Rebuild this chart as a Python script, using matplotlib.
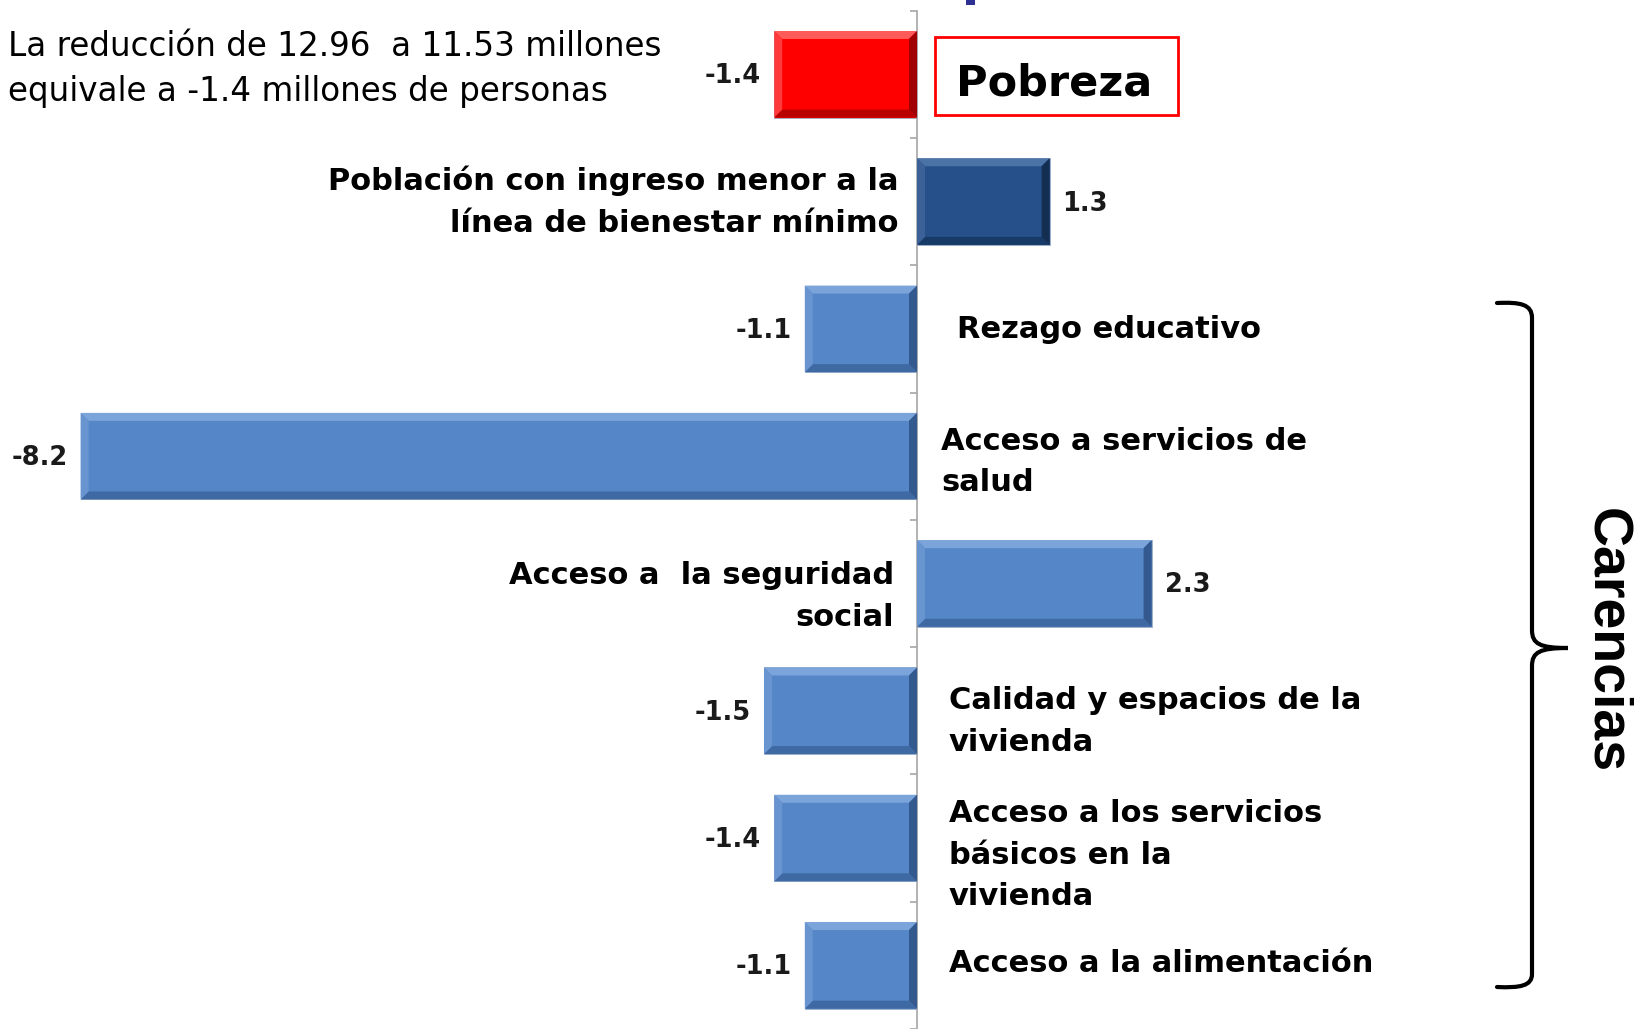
import numpy as np
import matplotlib
matplotlib.use('Agg')
import matplotlib.pyplot as plt
from matplotlib.patches import Polygon, Rectangle, PathPatch
from matplotlib.path import Path

# datos (millones de personas)
categorias = ['Pobreza',
              'Población con ingreso menor a la\nlínea de bienestar mínimo',
              'Rezago educativo',
              'Acceso a servicios de\nsalud',
              'Acceso a  la seguridad\nsocial',
              'Calidad y espacios de la\nvivienda',
              'Acceso a los servicios\nbásicos en la\nvivienda',
              'Acceso a la alimentación']
valores = [-1.4, 1.3, -1.1, -8.2, 2.3, -1.5, -1.4, -1.1]
etiquetas = ['-1.4', '1.3', '-1.1', '-8.2', '2.3', '-1.5', '-1.4', '-1.1']
nota = 'La reducción de 12.96  a 11.53 millones\nequivale a -1.4 millones de personas'

# estilo: (principal, arriba, abajo, izq, der)
rojo = ('#FF0000', '#FF5A5A', '#B80000', '#FF3A3A', '#A00000')
oscuro = ('#26508A', '#4C73A6', '#183A66', '#3B6198', '#142E52')
claro = ('#5587C8', '#7BA5DA', '#3F69A2', '#6894CF', '#33598E')
estilos = [rojo, oscuro] + [claro] * 6
# offsets de las etiquetas de categoria (px)
lab_dx = [0, -19, 40, 24, -23, 32, 32, 32]
lab_dy = [0, 0, -1, -6, -13, -11, -17, 2]

W, H = 1634, 1029
fig = plt.figure(figsize=(W / 100, H / 100), dpi=100)
ax = fig.add_axes([0, 0, 1, 1])
ppu_x = 102.0
ppu_y = 127.7
ax.set_xlim(-917 / ppu_x, (W - 917) / ppu_x)
ax.set_ylim((H - 74.5) / ppu_y, -74.5 / ppu_y)

y = np.arange(len(valores))
hbar = 0.68
for i, (v, est) in enumerate(zip(valores, estilos)):
    ax.barh(y[i], v, height=hbar, color=est[0], edgecolor='#9DB0C8', linewidth=0.6, zorder=2)
    # bisel
    x0, x1 = min(0, v), max(0, v)
    y0, y1 = y[i] - hbar / 2, y[i] + hbar / 2
    bx = 8 / ppu_x
    by = 8 / ppu_y
    caras = [
        ([(x0, y0), (x1, y0), (x1 - bx, y0 + by), (x0 + bx, y0 + by)], est[1]),
        ([(x0, y1), (x1, y1), (x1 - bx, y1 - by), (x0 + bx, y1 - by)], est[2]),
        ([(x0, y0), (x0 + bx, y0 + by), (x0 + bx, y1 - by), (x0, y1)], est[3]),
        ([(x1, y0), (x1 - bx, y0 + by), (x1 - bx, y1 - by), (x1, y1)], est[4]),
    ]
    for pts, c in caras:
        ax.add_patch(Polygon(pts, closed=True, facecolor=c, edgecolor='none', zorder=3))

    # valor
    if v < 0:
        ax.annotate(etiquetas[i], xy=(v, y[i]), xytext=(-13, -2), textcoords='offset pixels',
                    ha='right', va='center', fontsize=18.5, fontweight='bold', color='#1a1a1a')
    else:
        ax.annotate(etiquetas[i], xy=(v, y[i]), xytext=(13, -2), textcoords='offset pixels',
                    ha='left', va='center', fontsize=18.5, fontweight='bold', color='#1a1a1a')

    # categoria
    if i == 0:
        continue
    ax.annotate(categorias[i], xy=(0, y[i]), xytext=(lab_dx[i], lab_dy[i]), textcoords='offset pixels',
                ha='left' if lab_dx[i] > 0 else 'right', va='center', multialignment='left' if lab_dx[i] > 0 else 'right',
                fontsize=22, fontweight='bold', color='black', linespacing=1.55)

ax.spines[['top', 'right', 'bottom']].set_visible(False)
ax.spines['left'].set_position(('data', 0))
ax.spines['left'].set_bounds(-0.5, len(valores) - 0.5)
ax.spines['left'].set_color('#A6A6A6')
ax.spines['left'].set_linewidth(1.2)
ax.set_xticks([])
ax.set_yticks(np.arange(len(valores) + 1) - 0.5)
ax.set_yticklabels([])
ax.tick_params(axis='y', direction='out', length=5, color='#A6A6A6', width=1.2)
ax.patch.set_alpha(0)

# capa de anotaciones en pixeles
ov = fig.add_axes([0, 0, 1, 1], zorder=5)
ov.set_xlim(0, W)
ov.set_ylim(H, 0)
ov.axis('off')
ov.patch.set_alpha(0)

ov.text(8, 101, nota, ha='left', va='baseline', fontsize=23.5, color='black', linespacing=1.47)

# resto del titulo cortado arriba
ov.add_patch(Rectangle((966, 0), 9, 5, facecolor='#2E3192', edgecolor='none'))

ov.add_patch(Rectangle((935, 37), 243, 78, fill=False, edgecolor='#FF0000', linewidth=2))
ov.text(1054, 95, 'Pobreza', ha='center', va='baseline', fontsize=31, fontweight='bold')

verts = [(1497, 303), (1520, 302), (1532, 304), (1532, 318),
         (1532, 630),
         (1532, 644), (1540, 648), (1568, 648),
         (1540, 648), (1532, 652), (1532, 666),
         (1532, 974),
         (1532, 986), (1520, 988), (1497, 987)]
codes = [Path.MOVETO, Path.CURVE4, Path.CURVE4, Path.CURVE4,
         Path.LINETO,
         Path.CURVE4, Path.CURVE4, Path.CURVE4,
         Path.CURVE4, Path.CURVE4, Path.CURVE4,
         Path.LINETO,
         Path.CURVE4, Path.CURVE4, Path.CURVE4]
ov.add_patch(PathPatch(Path(verts, codes), fill=False, edgecolor='black', linewidth=3, capstyle='round'))
ov.text(1606, 641, 'Carencias', rotation=270, ha='center', va='center', fontsize=40,
        fontweight='bold', family=['Liberation Sans', 'DejaVu Sans'])

fig.savefig('out.png', dpi=100)
